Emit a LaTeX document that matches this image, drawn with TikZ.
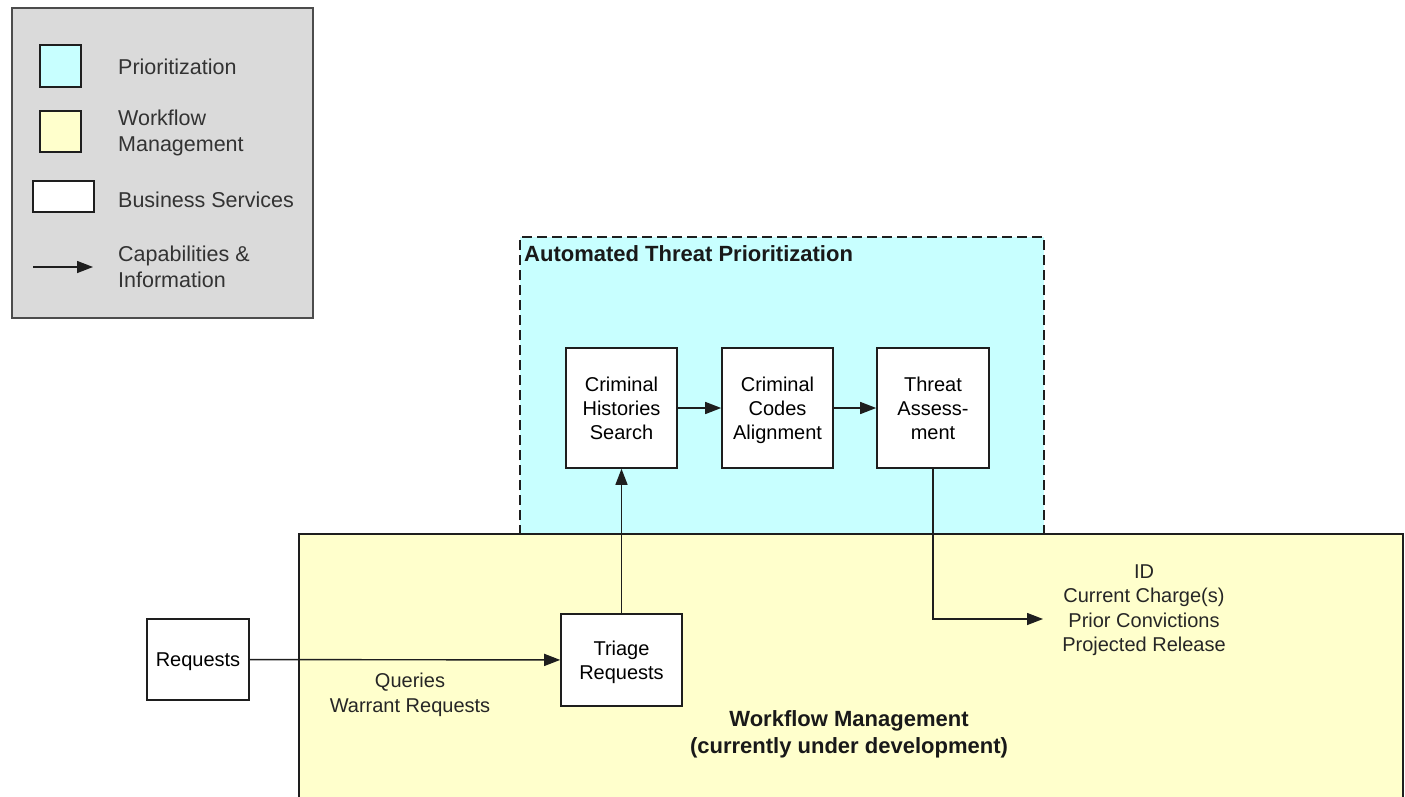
\documentclass[tikz,border=0pt]{standalone}
\usepackage{fontspec}
\setmainfont{Liberation Sans}
\usetikzlibrary{arrows.meta}
\definecolor{prio}{HTML}{C8FFFF}
\definecolor{wflow}{HTML}{FFFFCC}
\definecolor{legendgray}{HTML}{DADADA}
\definecolor{edge}{HTML}{1E1E1E}
\newcommand\capstr{\rule{0pt}{14.3pt}}
\tikzset{
  svc/.style={draw=edge, line width=1.6pt, fill=white, align=center, inner sep=0pt,
    font=\fontsize{20}{24}\selectfont},
  arr/.style={draw=edge, line width=1.4pt, -{Triangle[length=16pt,width=12pt]}},
  lbl/.style={align=center, inner sep=0pt, text=black!85, font=\fontsize{20}{24.5}\selectfont},
  legtxt/.style={anchor=west, align=left, inner sep=0pt, text=black!80, font=\fontsize{21.5}{26}\selectfont},
  title/.style={inner sep=0pt, text=black!90, font=\bfseries\fontsize{22}{27}\selectfont},
}
\begin{document}
\begin{tikzpicture}[x=1pt,y=-1pt]
\useasboundingbox (0,0) rectangle (1405,797);
% legend
\draw[fill=legendgray, draw=black!70, line width=1.4pt] (12,8) rectangle (313,318);
\draw[fill=prio, draw=edge, line width=1.8pt] (40,45) rectangle (81,87);
\node[legtxt] (lprio) at (118,67) {Prioritization};
\draw[fill=wflow, draw=edge, line width=1.8pt] (40,111) rectangle (81,152);
\node[legtxt] (lwf) at (118,133) {Workflow\\Management};
\draw[fill=white, draw=edge, line width=1.4pt] (33,181) rectangle (94,212);
\node[legtxt] (lbs) at (118,200) {Business Services};
\coordinate (la1) at (33,267);
\coordinate (la2) at (93,267);
\draw[arr] (la1) -- (la2);
\node[legtxt] (lcap) at (118,267) {Capabilities \&\\Information};
% prioritization region
\fill[prio] (520,237) rectangle (1044,535);
\draw[draw=edge, line width=1.4pt, dash pattern=on 10pt off 5pt] (520,535) -- (520,237) -- (1044,237) -- (1044,535);
\node[title, anchor=west] (ptitle) at (524,254) {Automated Threat Prioritization};
% workflow region
\draw[fill=wflow, draw=edge, line width=1.4pt] (299,534) rectangle (1403,810);
\node[title, align=center] (wtitle) at (849,734) {Workflow Management\\(currently under development)};
% services
\node[svc, minimum width=111pt, minimum height=120pt] (hist) at (621.5,408) {\capstr Criminal\\Histories\\\smash{Search}};
\node[svc, minimum width=111pt, minimum height=120pt] (codes) at (777.5,408) {\capstr Criminal\\Codes\\\smash{Alignment}};
\node[svc, minimum width=112pt, minimum height=120pt] (threat) at (933,408) {\capstr Threat\\Assess-\\\smash{ment}};
\node[svc, minimum width=121pt, minimum height=92pt] (triage) at (621.5,660) {\capstr Triage\\\smash{Requests}};
\node[svc, minimum width=102pt, minimum height=81pt] (req) at (198,659.5) {\capstr\smash{Requests}};
% connectors
\draw[arr] (hist) -- (codes);
\draw[arr] (codes) -- (threat);
\draw[arr] (triage) -- (hist);
\draw[arr] (req) -- (triage);
\coordinate (idpt) at (1043,619);
\draw[arr] (threat.south) |- (idpt);
% labels
\node[lbl] (qlbl) at (410,695) {Queries\\Warrant Requests};
\node[lbl] (idlbl) at (1144,610) {ID\\Current Charge(s)\\Prior Convictions\\Projected Release};
\end{tikzpicture}
\end{document}
